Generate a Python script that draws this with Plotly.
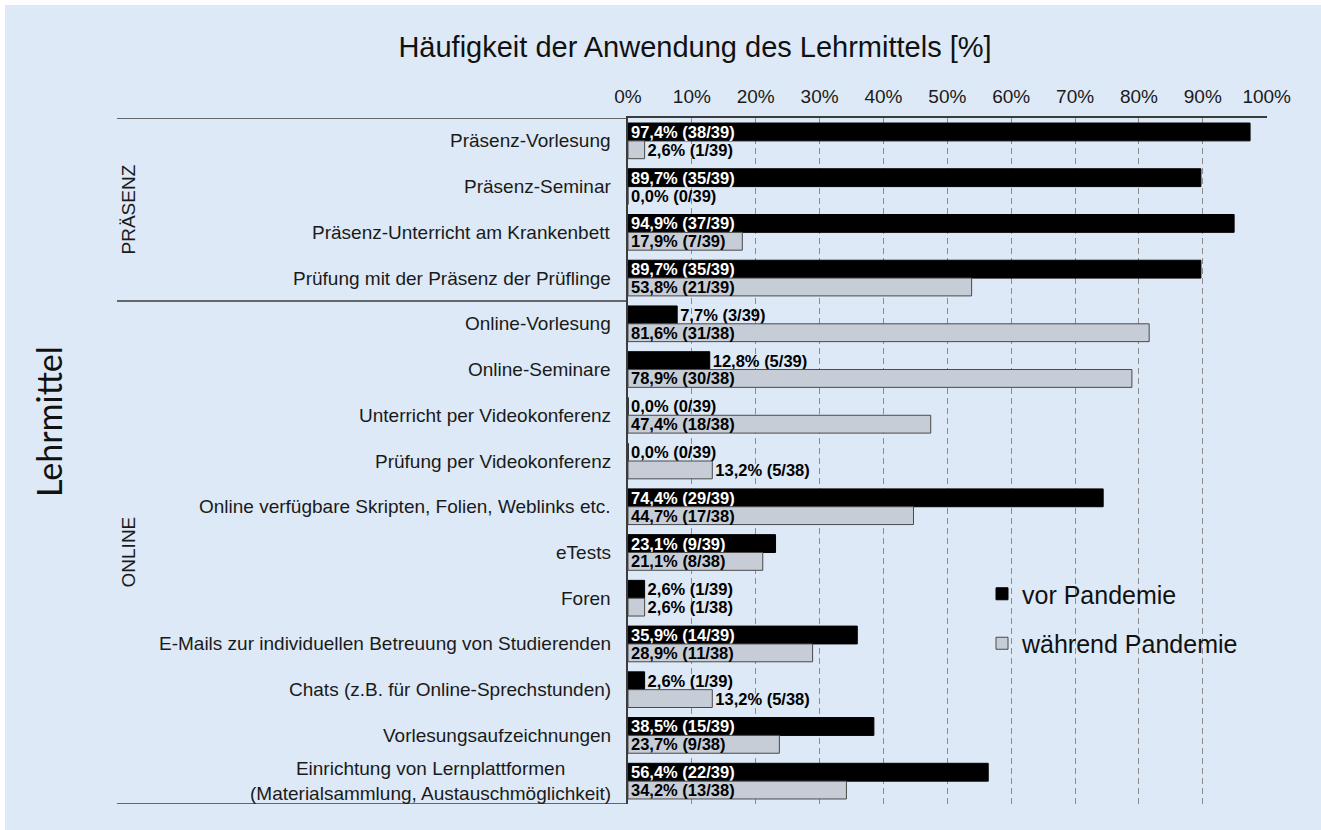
import plotly.graph_objects as go

categories = [
    "Präsenz-Vorlesung",
    "Präsenz-Seminar",
    "Präsenz-Unterricht am Krankenbett",
    "Prüfung mit der Präsenz der Prüflinge",
    "Online-Vorlesung",
    "Online-Seminare",
    "Unterricht per Videokonferenz",
    "Prüfung per Videokonferenz",
    "Online verfügbare Skripten, Folien, Weblinks etc.",
    "eTests",
    "Foren",
    "E-Mails zur individuellen Betreuung von Studierenden",
    "Chats (z.B. für Online-Sprechstunden)",
    "Vorlesungsaufzeichnungen",
    "Einrichtung von Lernplattformen<br>(Materialsammlung, Austauschmöglichkeit)",
]
groups = ["PRÄSENZ", "ONLINE"]
group_sizes = [4, 11]

vor_pct = [97.4, 89.7, 94.9, 89.7, 7.7, 12.8, 0.0, 0.0, 74.4, 23.1, 2.6, 35.9, 2.6, 38.5, 56.4]
vor_n = [38, 35, 37, 35, 3, 5, 0, 0, 29, 9, 1, 14, 1, 15, 22]
vor_total = [39] * 15

waehrend_pct = [2.6, 0.0, 17.9, 53.8, 81.6, 78.9, 47.4, 13.2, 44.7, 21.1, 2.6, 28.9, 13.2, 23.7, 34.2]
waehrend_n = [1, 0, 7, 21, 31, 30, 18, 5, 17, 8, 1, 11, 5, 9, 13]
waehrend_total = [39, 39, 39, 39, 38, 38, 38, 38, 38, 38, 38, 38, 38, 38, 38]

tick_values = [0, 10, 20, 30, 40, 50, 60, 70, 80, 90, 100]

FIG_W, FIG_H = 1321, 830
L, R, T, B = 628, 54, 118, 26
PW = FIG_W - L - R
PH = FIG_H - T - B
BG = "#dde9f6"
FONT = "Arial, Liberation Sans, sans-serif"


def px_x(px):
    return (px - L) / PW


def px_y(py):
    return (FIG_H - B - py) / PH


def label(p, n, t):
    return f"{p:.1f}".replace(".", ",") + f"% ({n}/{t})"


def positions(vals):
    return ["inside" if v >= 17 else "outside" for v in vals]


BAR_FONT = dict(family=FONT, size=16.5, weight="bold")

fig = go.Figure()
fig.add_trace(go.Bar(
    name="vor Pandemie", y=categories, x=vor_pct, orientation="h",
    marker=dict(color="#000000", line=dict(color="#000000", width=1)),
    text=[label(p, n, t) for p, n, t in zip(vor_pct, vor_n, vor_total)],
    textposition=positions(vor_pct), insidetextanchor="start",
    constraintext="none", cliponaxis=False,
    insidetextfont=dict(color="white", **BAR_FONT),
    outsidetextfont=dict(color="black", **BAR_FONT),
    legendgroup="a", hoverinfo="skip",
))
fig.add_trace(go.Bar(
    name="während Pandemie", y=categories, x=waehrend_pct, orientation="h",
    marker=dict(color="#c6cdd7", line=dict(color="#4a4a4a", width=1)),
    text=[label(p, n, t) for p, n, t in zip(waehrend_pct, waehrend_n, waehrend_total)],
    textposition=positions(waehrend_pct), insidetextanchor="start",
    constraintext="none", cliponaxis=False,
    insidetextfont=dict(color="black", **BAR_FONT),
    outsidetextfont=dict(color="black", **BAR_FONT),
    legendgroup="b", hoverinfo="skip",
))

annotations = []
for c in categories:
    annotations.append(dict(
        x=0, xref="paper", y=c, yref="y", text=c, showarrow=False,
        xanchor="right", xshift=-15, align="center",
        font=dict(family=FONT, size=19, color="#1a1a1a"),
    ))

# group labels
start = 0
for g, s in zip(groups, group_sizes):
    mid = start + (s - 1) / 2
    annotations.append(dict(
        x=px_x(128), xref="paper", y=mid, yref="y", text=g, showarrow=False,
        xanchor="center", yanchor="middle",
        textangle=-90, font=dict(family=FONT, size=19, color="#1a1a1a"),
    ))
    start += s

annotations.append(dict(
    x=px_x(48), xref="paper", y=px_y(422), yref="paper", text="Lehrmittel",
    showarrow=False, textangle=-90, xanchor="center", yanchor="middle",
    font=dict(family="Lato, Open Sans, sans-serif", size=34, color="#111111"),
))

# white frame strips on top and left (the rest of the page is light blue)
shapes = [
    dict(type="rect", xref="paper", yref="paper",
         x0=px_x(0), x1=px_x(FIG_W), y0=px_y(5), y1=px_y(0),
         fillcolor="white", line=dict(width=0), layer="below"),
    dict(type="rect", xref="paper", yref="paper",
         x0=px_x(0), x1=px_x(5), y0=px_y(FIG_H), y1=px_y(0),
         fillcolor="white", line=dict(width=0), layer="below"),
]
bounds = [-0.5]
acc = -0.5
for s in group_sizes:
    acc += s
    bounds.append(acc)
for yb in bounds:
    shapes.append(dict(type="line", xref="paper", yref="y",
                       x0=px_x(117), x1=0, y0=yb, y1=yb,
                       line=dict(color="#3c3c3c", width=1.5)))

fig.update_layout(
    width=FIG_W, height=FIG_H,
    margin=dict(l=L, r=R, t=T, b=B, pad=0),
    paper_bgcolor=BG, plot_bgcolor=BG,
    barmode="group", bargap=0.22, bargroupgap=0,
    title=dict(text="Häufigkeit der Anwendung des Lehrmittels [%]",
               x=695 / FIG_W, xanchor="center", y=1 - 47 / FIG_H, yanchor="middle",
               font=dict(family=FONT, size=29, color="#111111")),
    xaxis=dict(side="top", range=[0, 100.05], tickvals=tick_values,
               ticktext=[f"{v}%" for v in tick_values],
               showgrid=True, gridcolor="#8c8c8c", griddash="6px,4px", gridwidth=1,
               zeroline=False, showline=True, linecolor="#3c3c3c", linewidth=1.5,
               ticks="", ticklabelstandoff=6,
               tickfont=dict(family=FONT, size=19, color="#1a1a1a")),
    yaxis=dict(categoryorder="array", categoryarray=categories,
               range=[14.5, -0.5], showticklabels=False, ticks="",
               showgrid=False, zeroline=False, showline=True,
               linecolor="#3c3c3c", linewidth=1.5),
    legend=dict(x=px_x(982), y=px_y(571), xanchor="left", yanchor="top",
                bgcolor="rgba(0,0,0,0)", tracegroupgap=14, itemwidth=30,
                font=dict(family=FONT, size=25, color="#111111")),
    annotations=annotations,
    shapes=shapes,
)

fig.write_html(
    "out.html", config={"displayModeBar": False},
    post_script=(
        "document.body.style.margin='0';"
        f"document.body.style.background='{BG}';"
        f"document.documentElement.style.background='{BG}';"
    ),
)
